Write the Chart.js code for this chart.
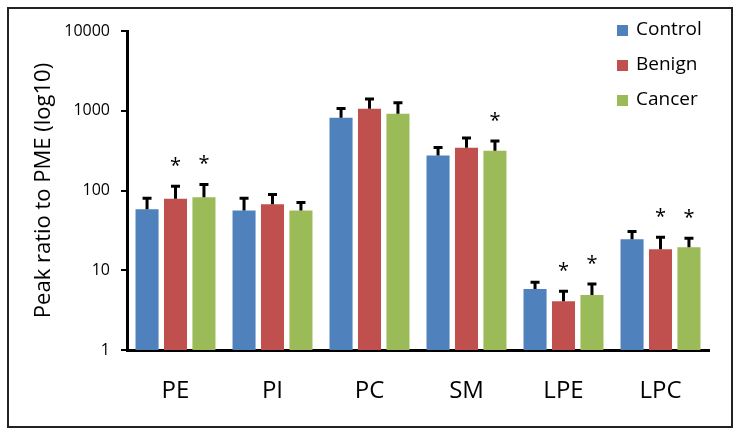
<!DOCTYPE html>
<html>
<head>
<meta charset="utf-8">
<script src="https://cdn.jsdelivr.net/npm/chart.js@4/dist/chart.umd.min.js"></script>
<style>
  html, body { margin: 0; padding: 0; background: #fff; }
  #wrap { width: 741px; height: 436px; }
</style>
</head>
<body>
<div id="wrap"><canvas id="grafico"></canvas></div>
<script>
const categorias = ['PE', 'PI', 'PC', 'SM', 'LPE', 'LPC'];
const grupos = ['Control', 'Benign', 'Cancer'];
const colores = ['#4F81BD', '#C0504D', '#9BBB59'];

// valores medios
const control = [58, 56, 816, 274, 5.8, 24.5];
const benign = [79, 67, 1060, 343, 4.1, 18.3];
const cancer = [82, 56, 920, 316, 4.9, 19.4];

// extremo superior de la barra de error
const controlErr = [82, 82, 1100, 355, 7.3, 31.6];
const benignErr = [116, 92, 1450, 470, 5.6, 26.6];
const cancerErr = [122, 73, 1300, 430, 6.9, 25.9];

// asteriscos (significancia)
const controlSig = [false, false, false, false, false, false];
const benignSig = [true, false, false, false, true, true];
const cancerSig = [true, false, false, true, true, true];

const ticksY = [1, 10, 100, 1000, 10000];

const errores = [controlErr, benignErr, cancerErr];
const significancia = [controlSig, benignSig, cancerSig];
const fuente = "'Open Sans', 'DejaVu Sans', sans-serif";

// marco, barras de error, asteriscos y leyenda
const extras = {
    id: 'extras',
    beforeDraw(chart) {
        const ctx = chart.ctx;
        ctx.save();
        ctx.strokeStyle = '#222';
        ctx.lineWidth = 2;
        ctx.strokeRect(8, 8, 724, 419);
        ctx.restore();
    },
    afterDatasetsDraw(chart) {
        const ctx = chart.ctx;
        const y = chart.scales.y;
        ctx.save();
        chart.data.datasets.forEach((ds, d) => {
            const meta = chart.getDatasetMeta(d);
            meta.data.forEach((bar, i) => {
                const top = y.getPixelForValue(errores[d][i]);
                ctx.strokeStyle = '#000';
                ctx.lineWidth = 3;
                ctx.beginPath();
                ctx.moveTo(bar.x, bar.y);
                ctx.lineTo(bar.x, top);
                ctx.moveTo(bar.x - 4.5, top + 1);
                ctx.lineTo(bar.x + 4.5, top + 1);
                ctx.stroke();
                if (significancia[d][i]) {
                    ctx.fillStyle = '#000';
                    ctx.font = '20px ' + fuente;
                    ctx.textAlign = 'center';
                    ctx.textBaseline = 'middle';
                    ctx.fillText('*', bar.x, top - 19);
                }
            });
        });

        // leyenda
        ctx.font = '19px ' + fuente;
        ctx.textAlign = 'left';
        ctx.textBaseline = 'middle';
        chart.data.datasets.forEach((ds, d) => {
            const cy = 30 + d * 35;
            ctx.fillStyle = ds.backgroundColor;
            ctx.fillRect(617, cy - 5, 11, 11);
            ctx.fillStyle = '#000';
            ctx.fillText(ds.label, 636, cy);
        });
        ctx.restore();
    }
};

const ctx = document.getElementById('grafico').getContext('2d');
window.grafico = new Chart(ctx, {
    type: 'bar',
    data: {
        labels: categorias,
        datasets: [control, benign, cancer].map((serie, d) => ({
            label: grupos[d],
            data: serie,
            backgroundColor: colores[d],
            categoryPercentage: 0.88,
            barPercentage: 0.81
        }))
    },
    options: {
        responsive: true,
        maintainAspectRatio: false,
        animation: false,
        layout: { padding: { left: 8, right: 32, top: 31, bottom: 8 } },
        plugins: {
            legend: { display: false },
            tooltip: { enabled: false }
        },
        scales: {
            x: {
                grid: { display: false },
                border: { display: true, color: '#000', width: 3 },
                ticks: { color: '#000', font: { family: fuente, size: 24 }, padding: 19 },
                afterFit: axis => { axis.height = 78; }
            },
            y: {
                type: 'logarithmic',
                min: 1,
                max: 10000,
                afterBuildTicks: axis => { axis.ticks = ticksY.map(v => ({ value: v, major: true })); },
                grid: { drawOnChartArea: false, drawTicks: true, tickLength: 6, color: '#000', lineWidth: 2 },
                border: { display: true, color: '#000', width: 3 },
                ticks: {
                    color: '#000',
                    font: { family: fuente, size: 16 },
                    padding: 11,
                    callback: v => String(v)
                },
                title: {
                    display: true,
                    text: 'Peak ratio to PME (log10)',
                    color: '#000',
                    font: { family: fuente, size: 22 },
                    padding: { top: 23, bottom: 0 }
                },
                afterFit: axis => { axis.width = 119; }
            }
        }
    },
    plugins: [extras]
});
</script>
</body>
</html>
